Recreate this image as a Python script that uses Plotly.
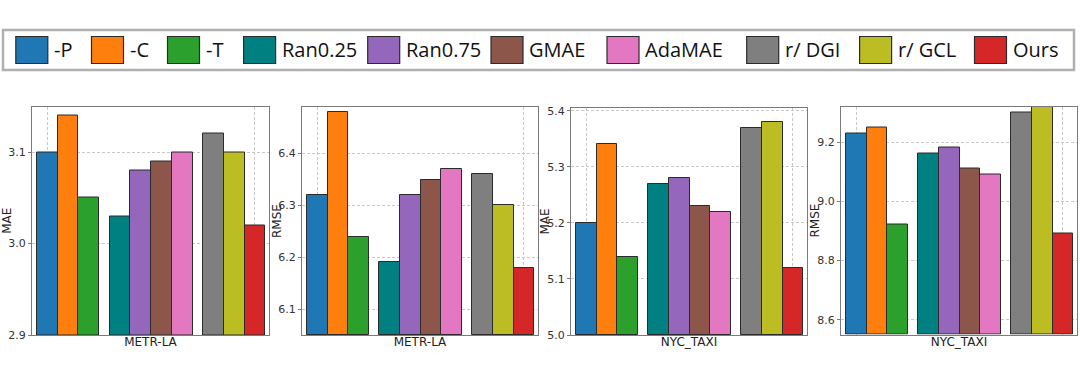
import plotly.graph_objects as go

# ---------------- data ----------------
methods = ["-P", "-C", "-T", "Ran0.25", "Ran0.75", "GMAE", "AdaMAE", "r/ DGI", "r/ GCL", "Ours"]
colors = ["#1f77b4", "#ff7f0e", "#2ca02c", "#008080", "#9467bd", "#8c564b",
          "#e377c2", "#7f7f7f", "#bcbd22", "#d62728"]
group_sizes = [3, 4, 3]

metr_mae = [3.10, 3.14, 3.05, 3.03, 3.08, 3.09, 3.10, 3.12, 3.10, 3.02]
metr_rmse = [6.32, 6.48, 6.24, 6.19, 6.32, 6.35, 6.37, 6.36, 6.30, 6.18]
taxi_mae = [5.20, 5.34, 5.14, 5.27, 5.28, 5.23, 5.22, 5.37, 5.38, 5.12]
taxi_rmse = [9.23, 9.25, 8.92, 9.16, 9.18, 9.11, 9.09, 9.30, 9.35, 8.89]

panels = [
    ("METR-LA", "MAE", metr_mae, [2.9, 3.15], [2.9, 3.0, 3.1], ["2.9", "3.0", "3.1"]),
    ("METR-LA", "RMSE", metr_rmse, [6.05, 6.49], [6.1, 6.2, 6.3, 6.4], ["6.1", "6.2", "6.3", "6.4"]),
    ("NYC_TAXI", "MAE", taxi_mae, [5.0, 5.405], [5.0, 5.1, 5.2, 5.3, 5.4], ["5.0", "5.1", "5.2", "5.3", "5.4"]),
    ("NYC_TAXI", "RMSE", taxi_rmse, [8.55, 9.32], [8.6, 8.8, 9.0, 9.2], ["8.6", "8.8", "9.0", "9.2"]),
]

# ---------------- layout constants ----------------
W, H = 1080, 379
GAP = 0.5
positions = []
p = 0.0
for gs in group_sizes:
    for _ in range(gs):
        positions.append(p)
        p += 1.0
    p += GAP
# pixel boxes of each panel: (left, right, top, bottom)
boxes = [(32, 269, 106.5, 335), (302, 538, 107, 335), (571, 807, 108, 335), (841, 1077, 106.5, 334.5)]
ytitle_x = [7, 277, 544, 815]

fig = go.Figure()
FONT = "DejaVu Sans"
shapes = []
annotations = []
for i, (ds, metric, vals, yr, tv, tt) in enumerate(panels):
    n = i + 1
    xa = "x" if n == 1 else f"x{n}"
    ya = "y" if n == 1 else f"y{n}"
    fig.add_trace(go.Bar(
        x=positions, y=[v - yr[0] for v in vals], base=yr[0], width=1.0,
        xaxis=xa, yaxis=ya,
        marker=dict(color=colors, line=dict(color="#2b2b2b", width=1)),
        showlegend=False, hoverinfo="skip",
    ))
    l, r, t, b = boxes[i]
    xkey = "xaxis" if n == 1 else f"xaxis{n}"
    ykey = "yaxis" if n == 1 else f"yaxis{n}"
    fig.update_layout({
        xkey: dict(
            domain=[l / W, r / W], anchor=ya, range=[-0.74, positions[-1] + 0.68],
            tickvals=[positions[0], positions[-1]], showticklabels=False, ticks="",
            showgrid=True, gridcolor="#c8c8c8", griddash="3px,2px", gridwidth=1,
            showline=True, mirror=True, linecolor="#7a7a7a", linewidth=1.2,
            zeroline=False, automargin=False,
            title=dict(text=ds, standoff=2, font=dict(family=FONT, size=12, color="#222")),
        ),
        ykey: dict(
            domain=[(H - b) / H, (H - t) / H], anchor=xa, range=yr,
            tickvals=tv, ticktext=tt, ticks="outside", ticklen=3, tickcolor="#7a7a7a",
            tickfont=dict(family=FONT, size=11, color="#333"),
            showgrid=True, gridcolor="#c8c8c8", griddash="3px,2px", gridwidth=1,
            showline=True, mirror=True, linecolor="#7a7a7a", linewidth=1.2,
            zeroline=False, automargin=False,
        ),
    })
    annotations.append(dict(xref="paper", yref="paper", x=ytitle_x[i] / W,
                            y=(H - (t + b) / 2) / H, text=metric, textangle=-90,
                            showarrow=False, xanchor="center", yanchor="middle",
                            font=dict(family=FONT, size=12, color="#222")))

# ---------------- manual legend ----------------
shapes.append(dict(type="rect", xref="paper", yref="paper",
                   x0=3 / W, x1=1074 / W, y0=(H - 70) / H, y1=(H - 30) / H,
                   line=dict(color="#b0b0b0", width=2.5), fillcolor="white", layer="below"))
leg_x = [15.8, 91.5, 167.5, 243.6, 367.7, 491, 607, 746.7, 859.6, 974.5]
SW, SH_TOP, SH_BOT = 32, 36.5, 63.5
for name, col, lx in zip(methods, colors, leg_x):
    shapes.append(dict(type="rect", xref="paper", yref="paper",
                       x0=lx / W, x1=(lx + SW) / W, y0=(H - SH_BOT) / H, y1=(H - SH_TOP) / H,
                       line=dict(color="#2b2b2b", width=1.2), fillcolor=col))
    annotations.append(dict(xref="paper", yref="paper", x=(lx + SW + 4) / W, y=(H - 50) / H,
                            text=name, showarrow=False, xanchor="left", yanchor="middle",
                            font=dict(family="Open Sans", size=20, color="#111")))

fig.update_layout(
    width=W, height=H, margin=dict(l=0, r=0, t=0, b=0),
    paper_bgcolor="white", plot_bgcolor="white",
    shapes=shapes, annotations=annotations, bargap=0, showlegend=False,
)

fig.write_html("out.html", config={"displayModeBar": False},
               post_script="document.body.style.margin='0';document.body.style.overflow='hidden';")
